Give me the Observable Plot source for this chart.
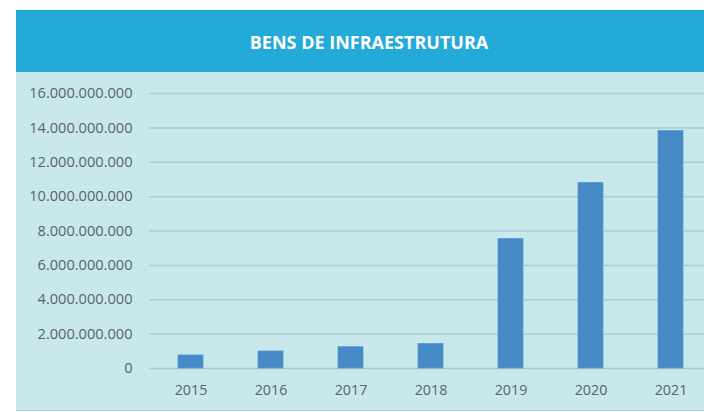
<!DOCTYPE html>
<html>
<head>
<meta charset="utf-8">
<script src="https://cdn.jsdelivr.net/npm/d3@7"></script>
<script src="https://cdn.jsdelivr.net/npm/@observablehq/plot@0.6"></script>
<style>
  html, body { margin: 0; padding: 0; background: #ffffff; width: 704px; height: 412px; overflow: hidden; }
  #banner { position: absolute; left: 16px; top: 10px; width: 688px; height: 62px; background: #23aad9; }
  #title { position: absolute; left: 0; top: 48px; width: 738px; text-align: center; color: #ffffff;
           font-family: "Open Sans", sans-serif; font-weight: bold; font-size: 18px; line-height: 0; }
  #title span { display: inline-block; transform: translateY(-0.36em); }
  #panel { position: absolute; left: 16px; top: 72px; width: 688px; height: 338px; background: #c9e8ec;
           border-bottom: 1px solid #b2d4da; }
  #panel svg { display: block; }
</style>
</head>
<body>
<div id="banner"></div>
<div id="title"><span>BENS DE INFRAESTRUTURA</span></div>
<div id="panel"></div>
<script>
const years = ["2015", "2016", "2017", "2018", "2019", "2020", "2021"];
const values = [760e6, 990e6, 1240e6, 1430e6, 7540e6, 10800e6, 13820e6];
const yTicks = [0, 2e9, 4e9, 6e9, 8e9, 10e9, 12e9, 14e9, 16e9];

const data = years.map((y, i) => ({year: y, value: values[i]}));
const fmt = d3.formatLocale({decimal: ",", thousands: ".", grouping: [3], currency: ["", ""]}).format(",d");

const chart = Plot.plot({
  width: 688,
  height: 338,
  marginTop: 21,
  marginBottom: 42,
  marginLeft: 133,
  marginRight: -7,
  style: {background: "transparent", fontFamily: "Open Sans, sans-serif", fontSize: "14px", color: "#5a6468", overflow: "visible"},
  x: {domain: years, paddingInner: 0.69, paddingOuter: 0.345, label: null},
  y: {domain: [0, 16e9], label: null},
  marks: [
    Plot.ruleY(yTicks, {stroke: "#a9cdd3", strokeWidth: 1.5}),
    Plot.barY(data, {x: "year", y: "value", fill: "#4589c6", stroke: "#5b9bd3", strokeWidth: 0.8}),
    Plot.axisY(yTicks, {tickSize: 0, tickPadding: 17, tickFormat: fmt, fill: "#58636a", fontSize: 14.6, label: null}),
    Plot.axisX({tickSize: 0, tickPadding: 16, fill: "#58636a", fontSize: 14.3, label: null})
  ]
});
document.getElementById("panel").appendChild(chart);
</script>
</body>
</html>
